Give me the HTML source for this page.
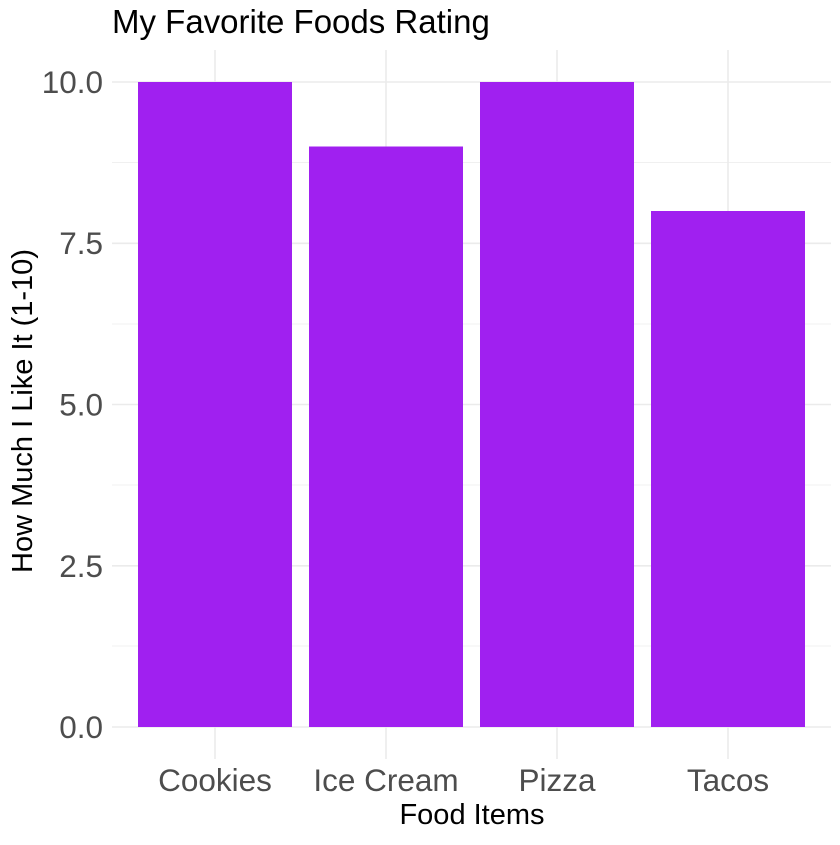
<!DOCTYPE html>
<html><head><style>body{margin:0;background:#fff}</style></head><body>
<svg width="840" height="840" xmlns="http://www.w3.org/2000/svg" font-family="Liberation Sans, sans-serif">
<rect width="840" height="840" fill="#fff"/>
<g stroke="#ebebeb" stroke-width="0.8">
<line x1="112" x2="831" y1="162.6" y2="162.6"/><line x1="112" x2="831" y1="324" y2="324"/>
<line x1="112" x2="831" y1="485" y2="485"/><line x1="112" x2="831" y1="646" y2="646"/>
</g>
<g stroke="#ebebeb" stroke-width="1.6">
<line x1="112" x2="831" y1="82" y2="82"/><line x1="112" x2="831" y1="243.3" y2="243.3"/>
<line x1="112" x2="831" y1="404.5" y2="404.5"/><line x1="112" x2="831" y1="565.8" y2="565.8"/>
<line x1="112" x2="831" y1="727" y2="727"/>
<line x1="215" x2="215" y1="50" y2="759"/><line x1="386" x2="386" y1="50" y2="759"/>
<line x1="557" x2="557" y1="50" y2="759"/><line x1="728" x2="728" y1="50" y2="759"/>
</g>
<g fill="#A020F0">
<rect x="138" y="82" width="154" height="645"/>
<rect x="309" y="146.5" width="154" height="580.5"/>
<rect x="480" y="82" width="154" height="645"/>
<rect x="651" y="211" width="154" height="516"/>
</g>
<g fill="#4d4d4d" font-size="31.5" text-anchor="end">
<text x="103" y="93">10.0</text><text x="103" y="254">7.5</text>
<text x="103" y="415.5">5.0</text><text x="103" y="577">2.5</text><text x="103" y="738">0.0</text>
</g>
<g fill="#4d4d4d" font-size="31.5" text-anchor="middle">
<text x="215" y="791">Cookies</text><text x="386" y="791">Ice Cream</text>
<text x="557" y="791">Pizza</text><text x="728" y="791">Tacos</text>
</g>
<text x="472" y="824" font-size="29" text-anchor="middle">Food Items</text>
<text transform="translate(32,411) rotate(-90)" font-size="29" text-anchor="middle">How Much I Like It (1-10)</text>
<text x="112" y="33" font-size="33">My Favorite Foods Rating</text>
</svg>
</body></html>
